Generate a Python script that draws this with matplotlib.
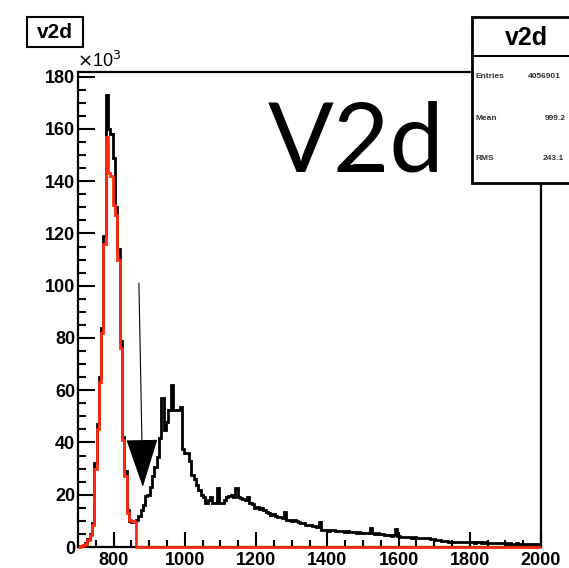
import numpy as np
import matplotlib
matplotlib.use("Agg")
import matplotlib.pyplot as plt
from matplotlib.patches import Rectangle
from matplotlib.lines import Line2D

# ---------------- data (counts in units of 10^3) ----------------
x_min, x_max, n_bins = 700, 2000, 200

black_counts = [
    0.2, 0.4, 0.8, 1.5, 3.0, 5.0, 9.0, 32, 47, 65,
    84, 119, 173, 160, 158, 149, 130, 114, 79, 42,
    29, 14, 10, 9.5, 9.5, 10.5, 12, 14, 16, 19.5,
    20, 23, 27, 30.6, 34.4, 41.7, 57, 44.8, 48, 52.5,
    62, 52.5, 52.5, 52.5, 53.6, 37.5, 36, 36, 33, 27.5,
    26, 23.7, 21.8, 20, 19, 17, 18, 19, 16.8, 17,
    22.5, 17, 17, 18, 19, 19.5, 19.8, 19, 22.5, 19,
    18.6, 18.3, 18, 19.2, 16.8, 16.5, 14.8, 15.5, 14.5, 14.8,
    14, 13.3, 13, 12.2, 12.5, 12, 11.4, 11.6, 11.2, 13.3,
    10.2, 10.4, 10, 10.2, 9.8, 9.5, 9.1, 9.2, 8.6, 8.3,
    8.4, 8.0, 8.2, 7.6, 9.5, 6.6, 6.4, 6.6, 6.2, 6.4,
    6.4, 6.0, 6.3, 6.2, 6.0, 5.8, 6.0, 5.8, 5.6, 5.8,
    5.5, 5.6, 5.4, 5.2, 5.5, 5.3, 7.1, 5.2, 5.0, 5.2,
    4.9, 5.1, 4.7, 4.5, 4.6, 4.4, 4.5, 6.8, 4.2, 3.9,
    3.8, 4.0, 3.7, 3.8, 3.6, 3.7, 3.5, 3.6, 3.4, 3.6,
    3.3, 3.4, 3.2, 3.0, 2.7, 2.6, 2.5, 2.3, 2.4, 2.2,
    2.1, 2.0, 1.9, 2.0, 1.9, 1.8, 1.9, 1.9, 1.8, 1.9,
    1.8, 1.7, 1.9, 1.8, 1.7, 1.8, 1.7, 1.6, 1.5, 1.6,
    1.5, 1.5, 1.4, 1.5, 1.4, 1.3, 1.4, 1.3, 1.3, 1.4,
    1.3, 1.3, 1.2, 1.3, 1.3, 1.2, 1.3, 1.3, 1.2, 1.3,
]

red_peak_counts = [
    0.1, 0.3, 0.7, 1.3, 2.5, 4.5, 8.5, 30, 45, 63,
    82, 116, 157, 143, 142, 131, 127, 110, 76, 41,
    27, 13, 10.5, 10, 9.5,
]
red_counts = red_peak_counts + [0.0] * (n_bins - len(red_peak_counts))

x_major = [800, 1000, 1200, 1400, 1600, 1800, 2000]
y_major = [0, 20, 40, 60, 80, 100, 120, 140, 160, 180]
y_max = 181.8

arrow_tail = (871, 101)
arrow_tip = (882, 23)

hist_name = "v2d"
stats_labels = ["Entries", "Mean", "RMS"]
stats_values = ["4056901", "999.2", "243.1"]
big_label = "V2d"

# ---------------- figure ----------------
W, H = 569, 568
fig = plt.figure(figsize=(W / 100, H / 100), dpi=100)
fig.patch.set_facecolor("white")

def fx(px):
    return px / W

def fy(py):
    return 1 - py / H

ax = fig.add_axes([fx(78), fy(547), fx(541) - fx(78), fy(72) - fy(547)])
edges = np.linspace(x_min, x_max, n_bins + 1)

ax.stairs(black_counts, edges, baseline=None, color="black", lw=2.0,
          zorder=3, clip_on=False)
ax.stairs(red_counts, edges, baseline=None, color="#ff2a10", lw=2.0,
          zorder=4, clip_on=False)

ax.set_xlim(x_min, x_max)
ax.set_ylim(0, y_max)

font = "Liberation Sans"
ax.set_xticks(x_major)
ax.set_xticklabels([str(v) for v in x_major], fontsize=13, fontweight="bold",
                   family=font)
ax.set_yticks(y_major)
ax.set_yticklabels([str(v) for v in y_major], fontsize=13, fontweight="bold",
                   family=font)
ax.set_xticks(np.arange(700, 2001, 50), minor=True)
ax.set_yticks(np.arange(0, 181, 5), minor=True)

ax.tick_params(axis="y", which="major", direction="in", length=12, width=1.5,
               pad=2, right=False)
ax.tick_params(axis="y", which="minor", direction="in", length=6, width=1.5,
               right=False)
ax.tick_params(axis="x", which="major", direction="in", length=10.5, width=1.5,
               pad=3.5, top=False)
ax.tick_params(axis="x", which="minor", direction="in", length=5, width=1.5,
               top=False)
for s in ax.spines.values():
    s.set_linewidth(1.6)

# x10^3
fig.text(fx(77), fy(67), r"$\times$10$^{3}$", fontsize=13, family=font,
         ha="left", va="baseline")

# arrow
ax.annotate("", xy=arrow_tip, xytext=arrow_tail,
            arrowprops=dict(arrowstyle="-|>,head_length=3.2,head_width=1.05",
                            color="black", lw=0.8, shrinkA=0, shrinkB=0,
                            mutation_scale=10), zorder=6)

# big label
fig.text(fx(268), fy(172), big_label, fontsize=70, family="Lato",
         ha="left", va="baseline", color="black")

# title box top-left
fig.add_artist(Rectangle((fx(27), fy(47)), fx(83) - fx(27), fy(17) - fy(47),
                         transform=fig.transFigure, facecolor="white",
                         edgecolor="black", lw=1.5, zorder=10))
fig.text(fx(55), fy(32), hist_name, fontsize=15, fontweight="bold",
         family=font, ha="center", va="center", zorder=11)

# stats box
fig.add_artist(Rectangle((fx(472), fy(183)), fx(600) - fx(472),
                         fy(17) - fy(183), transform=fig.transFigure,
                         facecolor="white", edgecolor="black", lw=2,
                         zorder=10))
fig.add_artist(Line2D([fx(472), fx(600)], [fy(56), fy(56)],
                      transform=fig.transFigure, color="black", lw=1.5,
                      zorder=11))
fig.text(fx(526), fy(38), hist_name, fontsize=18, fontweight="bold",
         family=font, ha="center", va="center", zorder=11)
label_y = [76, 118, 158]
value_x = [528, 545, 543]
for lab, val, py, vx in zip(stats_labels, stats_values, label_y, value_x):
    fig.text(fx(476), fy(py), lab, fontsize=6, fontweight="bold", family=font,
             ha="left", va="center", zorder=11, color="#333333")
    fig.text(fx(vx), fy(py), val, fontsize=6, fontweight="bold", family=font,
             ha="left", va="center", zorder=11, color="#333333")

fig.savefig("out.png", dpi=100)
